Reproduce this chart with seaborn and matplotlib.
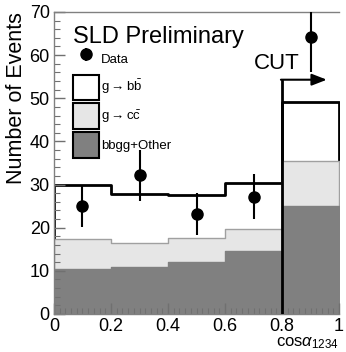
import numpy as np
import pandas as pd
import matplotlib
matplotlib.use('Agg')
import matplotlib.pyplot as plt
import seaborn as sns
from matplotlib.patches import Patch
from matplotlib.ticker import MultipleLocator

# Dati
bin_edges = [0.0, 0.2, 0.4, 0.6, 0.8, 1.0]
bin_centers = [0.1, 0.3, 0.5, 0.7, 0.9]
other = [10.4, 10.8, 12.1, 14.7, 25.0]
g_cc = [7.0, 5.6, 5.5, 4.9, 10.5]
g_bb = [12.4, 11.4, 10.0, 10.7, 13.7]
data_y = [25.1, 32.1, 23.2, 27.2, 64.3]
data_err = [4.9, 5.8, 4.8, 5.2, 8.1]
cut_x = 0.8
cut_y = 54.3

sns.set_style('ticks')
plt.rcParams['font.family'] = ['Liberation Sans', 'DejaVu Sans']
plt.rcParams['mathtext.fontset'] = 'custom'
plt.rcParams['mathtext.rm'] = 'Liberation Sans'
plt.rcParams['mathtext.it'] = 'Liberation Sans:italic'
plt.rcParams['text.color'] = 'black'
plt.rcParams['axes.labelcolor'] = 'black'

df = pd.DataFrame({'x': bin_centers, 'other': other, 'g_cc': g_cc, 'g_bb': g_bb})
df['light'] = df['other'] + df['g_cc']
df['total'] = df['light'] + df['g_bb']

fig = plt.figure(figsize=(3.46, 3.52), dpi=100)
ax = fig.add_axes([0.156, 0.108, 0.824, 0.858])

# istogramma totale (g->bb sopra)
sns.histplot(data=df, x='x', weights='total', bins=bin_edges, element='step',
             fill=True, color='white', alpha=1, edgecolor='black', linewidth=2, ax=ax)
# g->cc
sns.histplot(data=df, x='x', weights='light', bins=bin_edges, element='step',
             fill=True, color='#e6e6e6', alpha=1, edgecolor='#a0a0a0', linewidth=1, ax=ax)
# bbgg + altro
sns.histplot(data=df, x='x', weights='other', bins=bin_edges, element='step',
             fill=True, color='#808080', alpha=1, edgecolor='#808080', linewidth=1, ax=ax)

# linea del taglio
ax.plot([cut_x, cut_x], [0, cut_y], color='black', lw=2, zorder=5)
ax.annotate('', xy=(0.957, cut_y), xytext=(cut_x - 0.004, cut_y),
            arrowprops=dict(arrowstyle='-|>,head_length=0.9,head_width=0.35',
                            color='black', lw=1.5, shrinkA=0, shrinkB=0), zorder=5)
ax.text(0.78, 58.0, 'CUT', fontsize=16, ha='center', va='center')

# dati
eb = ax.errorbar(bin_centers, data_y, yerr=data_err, fmt='o', color='black',
                 ms=8, elinewidth=1.5, capsize=0, zorder=6, clip_on=True)

ax.text(0.068, 64.2, 'SLD Preliminary', fontsize=17, ha='left', va='center')

handles = [
    eb,
    Patch(facecolor='white', edgecolor='black', lw=1.5),
    Patch(facecolor='#e6e6e6', edgecolor='black', lw=1.5),
    Patch(facecolor='#808080', edgecolor='black', lw=1.5),
]
labels = ['Data', r'g$\rightarrow$b$\bar{\rm b}$', r'g$\rightarrow$c$\bar{\rm c}$', 'bbgg+Other']
ax.legend(handles, labels, loc='upper left', bbox_to_anchor=(0.043, 0.91), frameon=False,
          fontsize=9.5, handlelength=1.95, handleheight=2.6, handletextpad=0.2,
          labelspacing=0.25, borderpad=0)

ax.set_xlim(0, 1)
ax.set_ylim(0, 70)
ax.xaxis.set_minor_locator(MultipleLocator(0.02))
ax.yaxis.set_major_locator(MultipleLocator(10))
ax.yaxis.set_minor_locator(MultipleLocator(2))
ax.set_xticks([0, 0.2, 0.4, 0.6, 0.8, 1.0])
ax.set_xticklabels(['0', '0.2', '0.4', '0.6', '0.8', '1'])
ax.tick_params(axis='both', which='major', direction='in', length=8, color='#707070',
               width=1, labelsize=13, labelcolor='black', left=True, bottom=True, pad=3)
ax.tick_params(axis='both', which='minor', direction='in', length=4, color='#707070',
               width=0.8, left=True, bottom=True)
for s in ax.spines.values():
    s.set_color('#808080')
    s.set_linewidth(1)
    s.set_zorder(4)
ax.spines['right'].set_visible(False)
ax.set_axisbelow(False)

ax.set_ylabel('Number of Events', fontsize=15.5, loc='top', labelpad=2)
ax.set_xlabel(r'cos$\alpha_{1234}$', fontsize=12, loc='right', labelpad=0)

fig.savefig('out.png', dpi=100)
